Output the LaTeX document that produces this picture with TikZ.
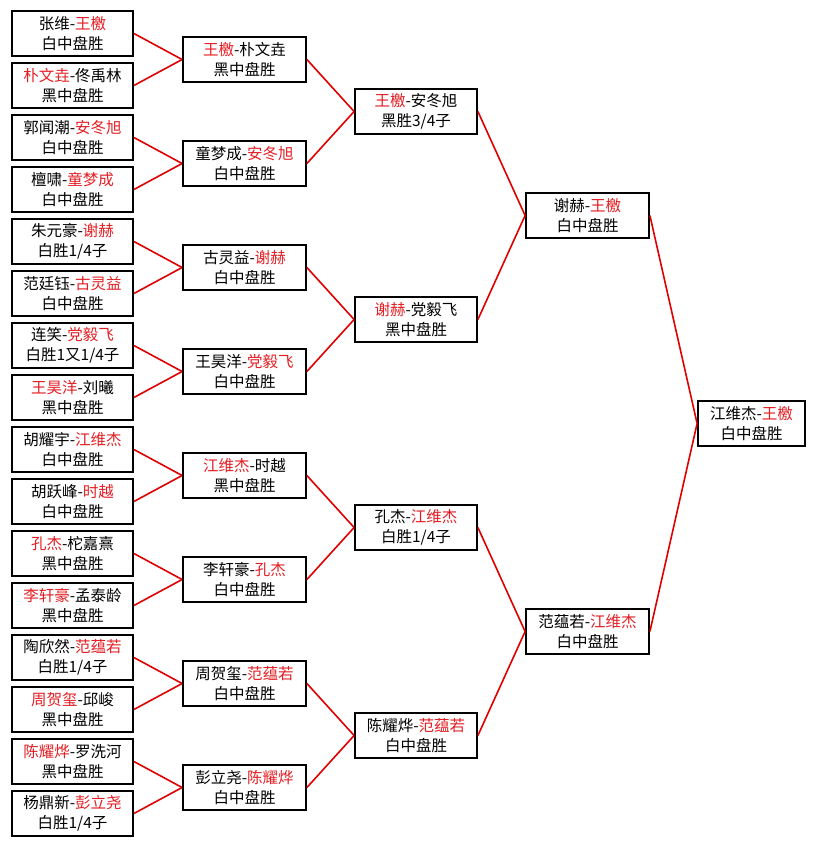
\documentclass[tikz,border=0pt]{standalone}
\usepackage{fontspec}
\setmainfont{Noto Sans CJK SC}
\usepackage{tikz}
\definecolor{winred}{RGB}{228,30,36}
\newcommand\w[1]{\textcolor{winred}{#1}}
\tikzset{
  game/.style={draw=black, line width=1.8pt, fill=white, align=center,
    minimum width=122pt, minimum height=45pt, inner sep=0pt,
    font=\fontsize{15.5}{20}\selectfont},
  link/.style={draw={rgb,255:red,225;green,0;blue,0}, line width=1.6pt}
}
\begin{document}
\begin{tikzpicture}[x=1pt,y=-1pt]
  \useasboundingbox (0,0) rectangle (815,845);
  % first round
  \foreach \i/\t in {1/{张维-\w{王檄}\\白中盘胜}, 2/{\w{朴文垚}-佟禹林\\黑中盘胜},
      3/{郭闻潮-\w{安冬旭}\\白中盘胜}, 4/{檀啸-\w{童梦成}\\白中盘胜},
      5/{朱元豪-\w{谢赫}\\白胜1/4子}, 6/{范廷钰-\w{古灵益}\\白中盘胜},
      7/{连笑-\w{党毅飞}\\白胜1又1/4子}, 8/{\w{王昊洋}-刘曦\\黑中盘胜},
      9/{胡耀宇-\w{江维杰}\\白中盘胜}, 10/{胡跃峰-\w{时越}\\白中盘胜},
      11/{\w{孔杰}-柁嘉熹\\黑中盘胜}, 12/{\w{李轩豪}-孟泰龄\\黑中盘胜},
      13/{陶欣然-\w{范蕴若}\\白胜1/4子}, 14/{\w{周贺玺}-邱峻\\黑中盘胜},
      15/{\w{陈耀烨}-罗洗河\\黑中盘胜}, 16/{杨鼎新-\w{彭立尧}\\白胜1/4子}}
    \node[game, minimum width=121pt] (a\i) at (72.5,{33.5+52*(\i-1)}) {\t};
  % second round
  \foreach \i/\t in {1/{\w{王檄}-朴文垚\\黑中盘胜}, 2/{童梦成-\w{安冬旭}\\白中盘胜},
      3/{古灵益-\w{谢赫}\\白中盘胜}, 4/{王昊洋-\w{党毅飞}\\白中盘胜},
      5/{\w{江维杰}-时越\\黑中盘胜}, 6/{李轩豪-\w{孔杰}\\白中盘胜},
      7/{周贺玺-\w{范蕴若}\\白中盘胜}, 8/{彭立尧-\w{陈耀烨}\\白中盘胜}}
    \node[game, minimum width=123pt] (b\i) at (244.5,{59.5+104*(\i-1)}) {\t};
  % quarter finals
  \foreach \i/\t in {1/{\w{王檄}-安冬旭\\黑胜3/4子}, 2/{\w{谢赫}-党毅飞\\黑中盘胜},
      3/{孔杰-\w{江维杰}\\白胜1/4子}, 4/{陈耀烨-\w{范蕴若}\\白中盘胜}}
    \node[game] (c\i) at (416,{111.5+208*(\i-1)}) {\t};
  % semi finals
  \node[game, minimum width=123pt] (d1) at (587.5,215.5) {谢赫-\w{王檄}\\白中盘胜};
  \node[game, minimum width=123pt] (d2) at (587.5,631.5) {范蕴若-\w{江维杰}\\白中盘胜};
  % final
  \node[game, minimum width=107pt] (e) at (751.5,423.5) {江维杰-\w{王檄}\\白中盘胜};
  % connectors
  \foreach \i [evaluate=\i as \j using {int((\i+1)/2)}] in {1,...,16}
    \draw[link] (a\i.east) -- (b\j.west);
  \foreach \i [evaluate=\i as \j using {int((\i+1)/2)}] in {1,...,8}
    \draw[link] (b\i.east) -- (c\j.west);
  \foreach \i [evaluate=\i as \j using {int((\i+1)/2)}] in {1,...,4}
    \draw[link] (c\i.east) -- (d\j.west);
  \draw[link] (d1.east) -- (e.west);
  \draw[link] (d2.east) -- (e.west);
\end{tikzpicture}
\end{document}
